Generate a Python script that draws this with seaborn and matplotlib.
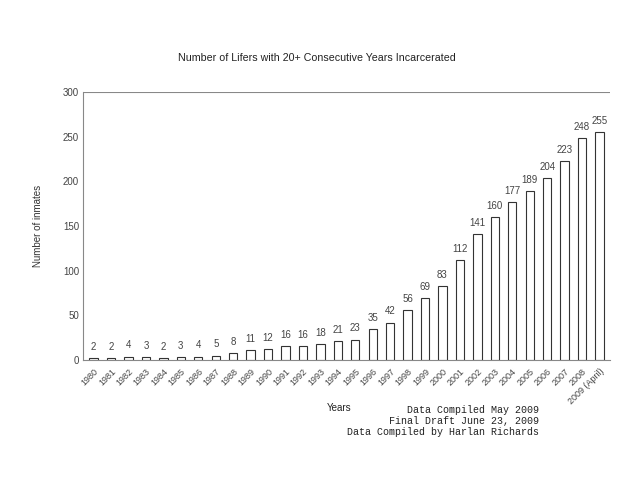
import matplotlib
matplotlib.use("Agg")
import matplotlib.pyplot as plt
import seaborn as sns
import pandas as pd

years = ["1980", "1981", "1982", "1983", "1984", "1985", "1986", "1987", "1988", "1989",
         "1990", "1991", "1992", "1993", "1994", "1995", "1996", "1997", "1998", "1999",
         "2000", "2001", "2002", "2003", "2004", "2005", "2006", "2007", "2008", "2009 (April)"]
inmates = [2, 2, 4, 3, 2, 3, 4, 5, 8, 11, 12, 16, 16, 18, 21, 23, 35, 42, 56, 69,
           83, 112, 141, 160, 177, 189, 204, 223, 248, 255]
yticks = [0, 50, 100, 150, 200, 250, 300]
notes = ["Data Compiled May 2009", "Final Draft June 23, 2009", "Data Compiled by Harlan Richards"]

sns.set_style("white")
plt.rcParams['font.family'] = ['Liberation Sans', 'DejaVu Sans']

df = pd.DataFrame({"year": years, "inmates": inmates})

fig = plt.figure(figsize=(6.4, 4.92), dpi=100)
ax = fig.add_axes([0.13, 0.268, 0.823, 0.545])
sns.barplot(data=df, x="year", y="inmates", ax=ax, color="white",
            edgecolor="#333333", linewidth=0.8, width=0.48, saturation=1)

for i, v in enumerate(inmates):
    ax.text(i, v + 7, str(v), ha="center", va="bottom", fontsize=7, color="#444444")

ax.set_ylim(0, 300)
ax.set_xlim(-0.6, len(years) - 0.4)
ax.set_yticks(yticks)
ax.set_yticklabels([str(t) for t in yticks], fontsize=7, color="#444444")
ax.set_xticks(range(len(years)))
ax.set_xticklabels(years, rotation=45, ha="right", rotation_mode="anchor", fontsize=6.5, color="#444444")
ax.tick_params(axis="both", length=0, pad=3)
ax.tick_params(axis="x", pad=5)
ax.set_xlabel("")
ax.set_ylabel("Number of inmates", fontsize=7, color="#333333", labelpad=14)
ax.axhline(300, color="#888888", linewidth=0.8)

for s in ["top", "right"]:
    ax.spines[s].set_visible(False)
for s in ["left", "bottom"]:
    ax.spines[s].set_color("#888888")
    ax.spines[s].set_linewidth(0.8)

fig.text(0.495, 0.882, "Number of Lifers with 20+ Consecutive Years Incarcerated",
         ha="center", va="center", fontsize=7.7, color="#222222")
fig.text(0.53, 0.171, "Years", ha="center", va="center", fontsize=7, color="#222222")
for k, line in enumerate(notes):
    fig.text(0.842, 0.167 - k * 0.0224, line, ha="right", va="center", fontsize=7.2,
             color="#222222", family=["Liberation Mono", "DejaVu Sans Mono"])

fig.savefig("out.png", dpi=100, facecolor="white")
